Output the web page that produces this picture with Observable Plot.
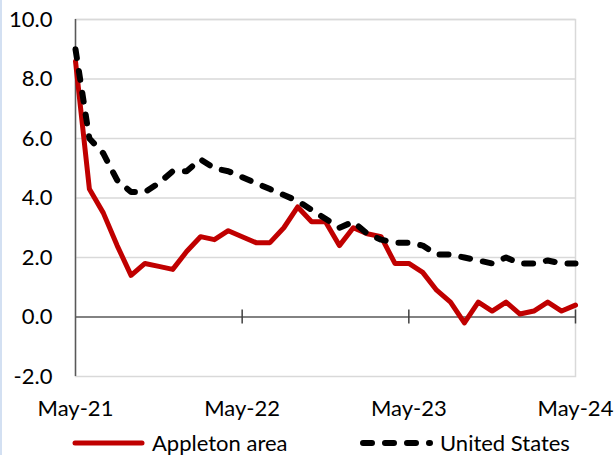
<!DOCTYPE html>
<html>
<head>
<meta charset="utf-8">
<script src="https://cdn.jsdelivr.net/npm/d3@7"></script>
<script src="https://cdn.jsdelivr.net/npm/@observablehq/plot@0.6"></script>
<style>
  html, body { margin: 0; padding: 0; background: #fff; overflow: hidden; }
  #wrap { position: relative; width: 616px; height: 455px; overflow: hidden; font-family: Lato, "Liberation Sans", sans-serif; color: #000; }
  #edge { position: absolute; left: 0; top: 0; width: 2px; height: 455px; background: #d3e0f2; }
  #chart { position: absolute; left: 0; top: 0; }
  .item { position: absolute; top: 431px; display: flex; align-items: center; font-size: 22px; line-height: 24px; white-space: nowrap; }
  .item svg { margin-right: 7px; }
</style>
</head>
<body>
<div id="wrap"><div id="edge"></div><div id="chart"></div><div id="legend"></div></div>
<script>
// Tick labels and their month positions (months since May-21)
const tickLabels = ["May-21", "May-22", "May-23", "May-24"];
const tickMonths = [0, 12, 24, 36];
const yTicks = [-2, 0, 2, 4, 6, 8, 10];
const gridTicks = [2, 4, 6, 8, 10];

// Series values, monthly May-21 .. May-24
const appleton = [8.6, 4.3, 3.5, 2.4, 1.4, 1.8, 1.7, 1.6, 2.2, 2.7, 2.6, 2.9,
                  2.7, 2.5, 2.5, 3.0, 3.7, 3.2, 3.2, 2.4, 3.0, 2.8, 2.7, 1.8,
                  1.8, 1.5, 0.9, 0.5, -0.2, 0.5, 0.2, 0.5, 0.1, 0.2, 0.5, 0.2, 0.4];
const unitedStates = [9.0, 6.0, 5.5, 4.6, 4.2, 4.2, 4.5, 4.9, 4.9, 5.3, 5.0, 4.9,
                      4.7, 4.5, 4.3, 4.1, 3.9, 3.6, 3.3, 3.0, 3.2, 2.8, 2.6, 2.5,
                      2.5, 2.4, 2.1, 2.1, 2.0, 1.9, 1.8, 2.0, 1.8, 1.8, 1.9, 1.8, 1.8];
const seriesNames = ["Appleton area", "United States"];

const toRows = (vals) => vals.map((v, i) => ({month: i, value: v}));
const appletonRows = toRows(appleton);
const usRows = toRows(unitedStates);

const red = "#c00000";
const dash = "9,13";

const chart = Plot.plot({
  width: 616,
  height: 425,
  marginLeft: 75,
  marginRight: 41,
  marginTop: 19,
  marginBottom: 49,
  style: {fontFamily: 'Lato, "Liberation Sans", sans-serif', fontSize: "22px", color: "#000", background: "transparent", overflow: "visible"},
  x: {domain: [0, 36], label: null},
  y: {domain: [-2, 10], label: null},
  marks: [
    Plot.gridY(gridTicks, {stroke: "#d9d9d9", strokeOpacity: 1, strokeWidth: 1.5}),
    Plot.frame({stroke: "#d9d9d9", strokeWidth: 1.5}),
    Plot.axisY(yTicks, {tickSize: 0, tickPadding: 23, tickFormat: d => d.toFixed(1), label: null, fontSize: 22}),
    Plot.axisX(tickMonths, {tickSize: 0, tickPadding: 24, tickFormat: d => tickLabels[tickMonths.indexOf(d)], label: null, fontSize: 22}),
    Plot.ruleY([0], {stroke: "#595959", strokeWidth: 1.5}),
    Plot.ruleX([0], {stroke: "#595959", strokeWidth: 1.5}),
    Plot.ruleX(tickMonths.slice(1), {y1: 0, y2: 0, insetTop: -7, insetBottom: -7, stroke: "#404040", strokeWidth: 1.5}),
    Plot.line(appletonRows, {x: "month", y: "value", stroke: red, strokeWidth: 5, strokeLinejoin: "round"}),
    Plot.line(usRows, {x: "month", y: "value", stroke: "#000", strokeWidth: 6, strokeDasharray: dash, strokeLinecap: "round"})
  ]
});
document.getElementById("chart").appendChild(chart);

// Legend
const legend = document.getElementById("legend");
const legendLeft = [72, 360];
seriesNames.forEach((name, i) => {
  const item = document.createElement("div");
  item.className = "item";
  item.style.left = legendLeft[i] + "px";
  const svg = d3.create("svg").attr("width", 73).attr("height", 12);
  const ln = svg.append("line").attr("x1", 3).attr("x2", 70).attr("y1", 6).attr("y2", 6)
    .attr("stroke", i ? "#000" : red).attr("stroke-width", i ? 6 : 5).attr("stroke-linecap", "round");
  if (i) ln.attr("stroke-dasharray", dash);
  item.appendChild(svg.node());
  const span = document.createElement("span");
  span.textContent = name;
  item.appendChild(span);
  legend.appendChild(item);
});
</script>
</body>
</html>
